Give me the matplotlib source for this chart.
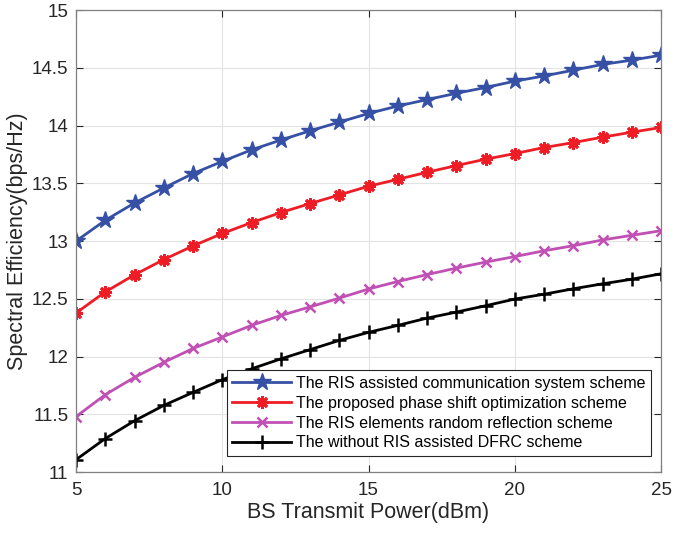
import matplotlib
matplotlib.use("Agg")
import matplotlib.pyplot as plt

power_dbm = list(range(5, 26))

ris_assisted = [13.00, 13.18, 13.33, 13.46, 13.585, 13.69, 13.79, 13.875, 13.955, 14.03,
                14.105, 14.17, 14.225, 14.28, 14.33, 14.385, 14.43, 14.48, 14.53, 14.567, 14.61]
proposed = [12.377, 12.56, 12.708, 12.84, 12.958, 13.066, 13.16, 13.247, 13.325, 13.40,
            13.475, 13.535, 13.596, 13.654, 13.709, 13.758, 13.81, 13.853, 13.90, 13.943, 13.984]
random_reflection = [11.48, 11.67, 11.82, 11.95, 12.07, 12.17, 12.27, 12.356, 12.43, 12.506,
                     12.585, 12.65, 12.71, 12.766, 12.818, 12.866, 12.916, 12.96, 13.01, 13.05, 13.09]
without_ris = [11.107, 11.29, 11.444, 11.577, 11.69, 11.80, 11.894, 11.98, 12.06, 12.14,
               12.21, 12.27, 12.333, 12.385, 12.44, 12.498, 12.54, 12.587, 12.63, 12.67, 12.717]

labels = ["The RIS assisted communication system scheme",
          "The proposed phase shift optimization scheme",
          "The RIS elements random reflection scheme",
          "The without RIS assisted DFRC scheme"]

x_ticks = [5, 10, 15, 20, 25]
y_ticks = [11, 11.5, 12, 12.5, 13, 13.5, 14, 14.5, 15]
y_ticklabels = ["11", "11.5", "12", "12.5", "13", "13.5", "14", "14.5", "15"]

plt.rcParams['font.family'] = ['Liberation Sans', 'DejaVu Sans']

fig = plt.figure(figsize=(6.75, 5.34), dpi=100)
ax = fig.add_axes([0.1126, 0.116, 0.8667, 0.865])

ax.plot(power_dbm, ris_assisted, color='#3550a5', lw=2, marker='*', ms=13,
        label=labels[0])
ax.plot(power_dbm, proposed, color='#ee1c25', lw=2, marker=(8, 2, 0), ms=9, mew=2,
        label=labels[1])
ax.plot(power_dbm, random_reflection, color='#c050b4', lw=2, marker='x', ms=7, mew=1.8,
        label=labels[2])
ax.plot(power_dbm, without_ris, color='black', lw=2, marker='+', ms=10, mew=1.8,
        label=labels[3])

ax.set_xlim(5, 25)
ax.set_ylim(11, 15)
ax.set_xticks(x_ticks)
ax.set_yticks(y_ticks)
ax.set_yticklabels(y_ticklabels)
ax.tick_params(direction='in', top=True, right=True, labelsize=13.5, colors='#262626',
               length=5, width=0.8)
ax.tick_params(axis='y', pad=5.5)
ax.tick_params(axis='x', pad=7)
ax.grid(True, color='#e3e3e3', lw=0.8)
ax.set_axisbelow(True)
for s in ax.spines.values():
    s.set_color('#808080')
    s.set_linewidth(0.9)

ax.set_xlabel("BS Transmit Power(dBm)", fontsize=15.5, color='#262626', labelpad=2)
ax.set_ylabel("Spectral Efficiency(bps/Hz)", fontsize=15.5, color='#262626', labelpad=3)

leg = ax.legend(loc='lower right', bbox_to_anchor=(0.983, 0.035), fontsize=11.5,
                frameon=True, fancybox=False, edgecolor='#262626', framealpha=1,
                borderpad=0.35, labelspacing=0.3, handlelength=3.7, handletextpad=0.3,
                borderaxespad=0)
leg.get_frame().set_linewidth(0.8)

fig.savefig("out.png", dpi=100)
